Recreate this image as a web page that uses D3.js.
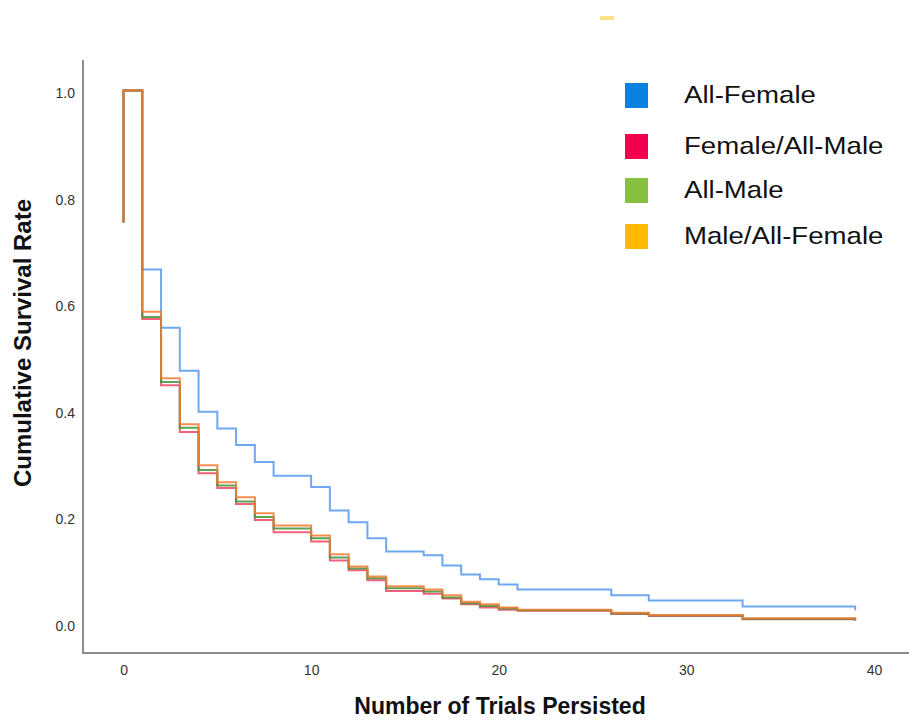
<!DOCTYPE html>
<html>
<head>
<meta charset="utf-8">
<script src="https://cdn.jsdelivr.net/npm/d3@7"></script>
<style>
  html, body { margin: 0; padding: 0; background: #fff; }
  svg { display: block; }
  text { font-family: "Liberation Sans", Arial, sans-serif; }
</style>
</head>
<body>
<svg id="chart" width="909" height="721"></svg>
<script>
// ---- data ----
const times = [0, 0, 1, 2, 3, 4, 5, 6, 7, 8, 10, 11, 12, 13, 14, 16, 17, 18, 19, 20, 21, 26, 28, 33, 39];
const allFemale = [0.752, 1.0, 0.664, 0.555, 0.474, 0.397, 0.366, 0.335, 0.303, 0.277, 0.256, 0.212, 0.190, 0.160, 0.135, 0.128, 0.109, 0.092, 0.083, 0.073, 0.064, 0.053, 0.043, 0.032, 0.025];
const femaleAllMale = [0.752, 1.0, 0.571, 0.447, 0.359, 0.282, 0.254, 0.224, 0.194, 0.171, 0.154, 0.118, 0.100, 0.081, 0.061, 0.056, 0.047, 0.036, 0.030, 0.026, 0.024, 0.018, 0.014, 0.008, 0.005];
const allMale = [0.752, 1.0, 0.575, 0.453, 0.367, 0.288, 0.259, 0.229, 0.200, 0.178, 0.160, 0.124, 0.103, 0.085, 0.066, 0.060, 0.049, 0.038, 0.033, 0.028, 0.025, 0.019, 0.015, 0.009, 0.006];
const maleAllFemale = [0.752, 1.0, 0.585, 0.460, 0.374, 0.297, 0.265, 0.237, 0.207, 0.184, 0.165, 0.130, 0.107, 0.088, 0.070, 0.064, 0.053, 0.041, 0.036, 0.030, 0.026, 0.020, 0.016, 0.010, 0.007];
const seriesNames = ["All-Female", "Female/All-Male", "All-Male", "Male/All-Female"];
const xTicks = [0, 10, 20, 30, 40];
const yTicks = [0.0, 0.2, 0.4, 0.6, 0.8, 1.0];

// ---- styles ----
const lineColors = ["#5e9ff0", "#ee4466", "#3f9236", "#f27a30"];
const legendColors = ["#0a80e0", "#f2004e", "#86c040", "#ffb900"];

const svg = d3.select("#chart");
const x = d3.scaleLinear().domain([-2.16, 41.87]).range([83, 909]);
const y = d3.scaleLinear().domain([-0.0553, 1.057]).range([653, 60]);

// small artefact at top
svg.append("rect").attr("x", 600).attr("y", 16).attr("width", 14).attr("height", 4).attr("fill", "#ffe08c");

// axes lines
const axisColor = "#8c8c8c";
svg.append("line").attr("x1", x.range()[0]).attr("x2", x.range()[0])
  .attr("y1", y.range()[1]).attr("y2", y.range()[0])
  .attr("stroke", axisColor).attr("stroke-width", 2);
svg.append("line").attr("x1", x.range()[0] - 1).attr("x2", x.range()[1])
  .attr("y1", y.range()[0]).attr("y2", y.range()[0])
  .attr("stroke", axisColor).attr("stroke-width", 2);

// tick labels via d3 axes (no tick marks / domain)
const xAxis = d3.axisBottom(x).tickValues(xTicks).tickFormat(d3.format("d")).tickSize(0).tickPadding(12);
const gx = svg.append("g").attr("transform", `translate(0,${y.range()[0]})`).call(xAxis);
gx.select(".domain").remove();
gx.selectAll("text").attr("font-size", 14).attr("fill", "#333").attr("font-family", "Liberation Sans, Arial, sans-serif");

const yAxis = d3.axisLeft(y).tickValues(yTicks).tickFormat(d3.format(".1f")).tickSize(0).tickPadding(8);
const gy = svg.append("g").attr("transform", `translate(${x.range()[0]},0)`).call(yAxis);
gy.select(".domain").remove();
gy.selectAll("text").attr("font-size", 14).attr("fill", "#333").attr("dy", "0.5em").attr("font-family", "Liberation Sans, Arial, sans-serif");

// lines
const allSeries = [allFemale, femaleAllMale, allMale, maleAllFemale];
const line = d3.line().x(d => x(d[0])).y(d => y(d[1])).curve(d3.curveStepAfter);
[0, 1, 2, 3].forEach(i => {
  const pts = times.map((t, k) => [t, allSeries[i][k]]);
  svg.append("path").datum(pts)
    .attr("d", line)
    .attr("fill", "none")
    .attr("stroke", lineColors[i])
    .attr("stroke-width", 2)
    .attr("stroke-opacity", i === 0 ? 0.9 : 0.85);
});

// axis titles
svg.append("text")
  .attr("transform", `translate(31,343) rotate(-90)`)
  .attr("text-anchor", "middle")
  .attr("font-weight", "bold").attr("font-size", 24).attr("fill", "#111")
  .text("Cumulative Survival Rate");
svg.append("text")
  .attr("x", 500).attr("y", 714)
  .attr("text-anchor", "middle")
  .attr("font-weight", "bold").attr("font-size", 23).attr("fill", "#111")
  .text("Number of Trials Persisted");

// legend
const legendY = [95.5, 146.5, 190.5, 236.5];
const leg = svg.append("g");
seriesNames.forEach((name, i) => {
  leg.append("rect").attr("x", 625).attr("y", legendY[i] - 12.5)
    .attr("width", 23).attr("height", 25).attr("fill", legendColors[i]);
  leg.append("text")
    .attr("transform", `translate(684,${legendY[i] + 7}) scale(1.15,1)`)
    .attr("font-size", 24).attr("fill", "#111")
    .text(name);
});
</script>
</body>
</html>
